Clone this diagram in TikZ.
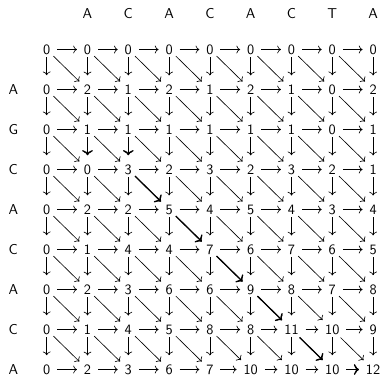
\documentclass[tikz,border=0pt]{standalone}
\usepackage{tikz}
\usetikzlibrary{arrows.meta}

\tikzset{
    cell/.style={font=\sffamily, inner sep=0pt},
    link/.style={line width=0.45pt, -{Computer Modern Rightarrow}},
    hor/.style={link, shorten <=4.7pt, shorten >=4.7pt},
    ver/.style={link, shorten <=1.8pt, shorten >=6.3pt},
    dia/.style={link, shorten <=2.8pt, shorten >=4.2pt},
    trace/.style={line width=0.9pt}
}

\begin{document}
\begin{tikzpicture}[x=0.7pt, y=-0.7pt]

% Spacing
\def\dx{40.8}
\def\dy{40}
\def\xo{46.7}
\def\yo{49.5}

\useasboundingbox (0,0) rectangle (384,380);

% Sequence along the top
\foreach \s [count=\c] in {A,C,A,C,A,C,T,A}
    \node[cell] (top-\c) at ({\xo+\c*\dx},14) {\s};

% Score cells, one row at a time
\foreach \r/\lab/\vals in {
    0//{0,0,0,0,0,0,0,0,0},
    1/A/{0,2,1,2,1,2,1,0,2},
    2/G/{0,1,1,1,1,1,1,0,1},
    3/C/{0,0,3,2,3,2,3,2,1},
    4/A/{0,2,2,5,4,5,4,3,4},
    5/C/{0,1,4,4,7,6,7,6,5},
    6/A/{0,2,3,6,6,9,8,7,8},
    7/C/{0,1,4,5,8,8,11,10,9},
    8/A/{0,2,3,6,7,10,10,10,12}}{
    \node[cell] (lab-\r) at (13.3,{\yo+\r*\dy}) {\lab};
    \foreach \v [count=\k from 0] in \vals
        \node[cell] (c-\r-\k) at ({\xo+\k*\dx},{\yo+\r*\dy}) {\v};
}

% Right arrows
\foreach \r in {0,...,8}
    \foreach \k [count=\nk from 1] in {0,...,7}
        \draw[hor] (c-\r-\k) -- (c-\r-\nk);

% Down arrows
\foreach \r [count=\nr from 1] in {0,...,7}
    \foreach \k in {0,...,8}
        \draw[ver] (c-\r-\k) -- (c-\nr-\k);

% Diagonal arrows
\foreach \r [count=\nr from 1] in {0,...,7}
    \foreach \k [count=\nk from 1] in {0,...,7}
        \draw[dia] (c-\r-\k) -- (c-\nr-\nk);

% Traceback
\draw[ver, trace] (c-2-1) -- (c-3-1);
\draw[ver, trace] (c-2-2) -- (c-3-2);
\draw[dia, trace] (c-3-2) -- (c-4-3);
\draw[dia, trace] (c-4-3) -- (c-5-4);
\draw[dia, trace] (c-5-4) -- (c-6-5);
\draw[dia, trace] (c-6-5) -- (c-7-6);
\draw[dia, trace] (c-7-6) -- (c-8-7);
\draw[hor, trace] (c-8-7) -- (c-8-8);

\end{tikzpicture}
\end{document}
